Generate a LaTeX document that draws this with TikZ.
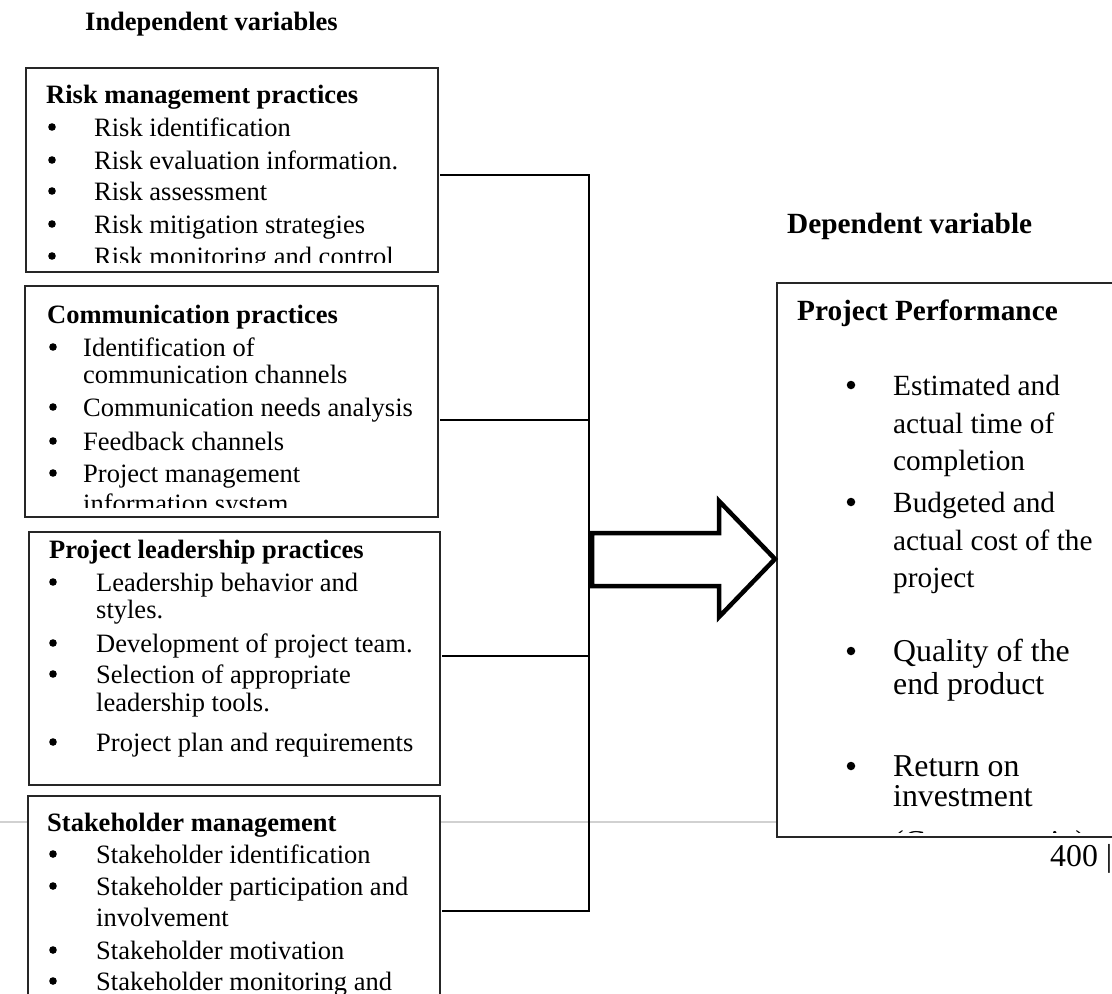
\documentclass[tikz,border=0pt]{standalone}
\usepackage{fontspec}
\setmainfont{Liberation Serif}
\newcommand\itm[6]{%
  \node[dot] (#2-b) at (#3,#5-9) {};
  \node[#1] (#2) at (#4,#5) {#6};}
\newcommand\itmr[6]{%
  \node[dot, minimum size=8.5pt] (#2-b) at (#3,#5-10) {};
  \node[#1] (#2) at (#4,#5) {#6};}
\begin{document}
\begin{tikzpicture}[x=1pt,y=-1pt,
  box/.style={draw=black!85, line width=1.2pt, fill=white, inner sep=0pt, outer sep=0pt, anchor=north west},
  conn/.style={draw=black, line width=2pt},
  dot/.style={circle, fill=black, inner sep=0pt, minimum size=7.6pt},
  lt/.style={font=\fontsize{26.5}{30}\selectfont, inner sep=0pt, anchor=base west},
  lh/.style={font=\fontsize{26.5}{30}\selectfont\bfseries, inner sep=0pt, anchor=base west},
  rt/.style={font=\fontsize{29.3}{33}\selectfont, inner sep=0pt, anchor=base west},
  rh/.style={font=\fontsize{29.3}{33}\selectfont\bfseries, inner sep=0pt, anchor=base west},
  rq/.style={font=\fontsize{31.8}{35}\selectfont, inner sep=0pt, anchor=base west},
  bigarrow/.style={draw=black, line width=4.5pt, fill=white, line join=miter}]
\useasboundingbox (0,0) rectangle (1112,994);
% page break line
\draw[black!18, line width=2pt] (0,822) -- (1112,822);
\node[rq] (page) at (1050,866) {400 |};
% headings
\node[lh] (indep) at (85,30) {Independent variables};
\node[rh] (dep) at (787,233) {Dependent variable};
% boxes
\node[box, minimum width=412pt, minimum height=204pt] (risk) at (26,68) {};
\node[box, minimum width=413pt, minimum height=231pt] (comm) at (25,286) {};
\node[box, minimum width=411pt, minimum height=253pt] (lead) at (29,532) {};
\node[box, minimum width=412pt, minimum height=220pt] (stake) at (28,796) {};
\node[box, minimum width=350pt, minimum height=554pt] (perf) at (777,283) {};
% risk box text
\begin{scope}
\clip (26,68) rectangle (438,262);
\node[lh] (risk-t) at (46,103) {Risk management practices};
\itm{lt}{r1}{52}{94}{136}{Risk identification}
\itm{lt}{r2}{52}{94}{169}{Risk evaluation information.}
\itm{lt}{r3}{52}{94}{200}{Risk assessment}
\itm{lt}{r4}{52}{94}{233}{Risk mitigation strategies}
\itm{lt}{r5}{52}{94}{265}{Risk monitoring and control}
\end{scope}
% communication box text
\begin{scope}
\clip (25,286) rectangle (438,507);
\node[lh] (comm-t) at (47,323) {Communication practices};
\itm{lt}{c1}{53}{83}{356}{Identification of}
\node[lt] (c1b) at (83,383) {communication channels};
\itm{lt}{c2}{53}{83}{416}{Communication needs analysis}
\itm{lt}{c3}{53}{83}{450}{Feedback channels}
\itm{lt}{c4}{53}{83}{482}{Project management}
\node[lt] (c4b) at (83,512) {information system};
\end{scope}
% leadership box text
\begin{scope}
\clip (29,532) rectangle (440,775);
\node[lh] (lead-t) at (49,558) {Project leadership practices};
\itm{lt}{l1}{53}{96}{591}{Leadership behavior and}
\node[lt] (l1b) at (96,618) {styles.};
\itm{lt}{l2}{53}{96}{652}{Development of project team.}
\itm{lt}{l3}{53}{96}{683}{Selection of appropriate}
\node[lt] (l3b) at (96,711) {leadership tools.};
\itm{lt}{l4}{53}{96}{751}{Project plan and requirements}
\end{scope}
% stakeholder box text
\node[lh] (stake-t) at (47,831) {Stakeholder management};
\itm{lt}{s1}{53}{96}{863}{Stakeholder identification}
\itm{lt}{s2}{53}{96}{895}{Stakeholder participation and}
\node[lt] (s2b) at (96,926) {involvement};
\itm{lt}{s3}{53}{96}{959}{Stakeholder motivation}
\itm{lt}{s4}{53}{96}{990}{Stakeholder monitoring and}
% performance box text
\begin{scope}
\clip (777,283) rectangle (1112,832);
\node[rh] (perf-t) at (797,320) {Project Performance};
\itmr{rt}{p1}{851}{893}{395}{Estimated and}
\node[rt] (p1b) at (893,433) {actual time of};
\node[rt] (p1c) at (893,470) {completion};
\itmr{rt}{p2}{851}{893}{512}{Budgeted and}
\node[rt] (p2b) at (893,550) {actual cost of the};
\node[rt] (p2c) at (893,587) {project};
\itmr{rq}{p3}{851}{893}{661}{Quality of the}
\node[rq] (p3b) at (893,694) {end product};
\itmr{rq}{p4}{851}{893}{776}{Return on}
\node[rq] (p4b) at (893,806) {investment};
\node[rq] (p4c) at (893,852) {(Gross margin)};
\end{scope}
% connectors
\coordinate (j1) at (589,175);
\coordinate (j2) at (589,420);
\coordinate (j3) at (589,656);
\coordinate (j4) at (589,911);
\draw[conn, shorten <=2pt] (risk.east |- j1) -- (j1);
\draw[conn, shorten <=2pt] (comm.east |- j2) -- (j2);
\draw[conn, shorten <=2pt] (lead.east |- j3) -- (j3);
\draw[conn, shorten <=2pt] (stake.east |- j4) -- (j4);
\draw[conn, line cap=rect] (j1) -- (j4);
% big arrow
\draw[bigarrow] (592,533) -- (719,533) -- (719,501) -- (775,559) -- (719,617) -- (719,586) -- (592,586) -- cycle;
\end{tikzpicture}
\end{document}
